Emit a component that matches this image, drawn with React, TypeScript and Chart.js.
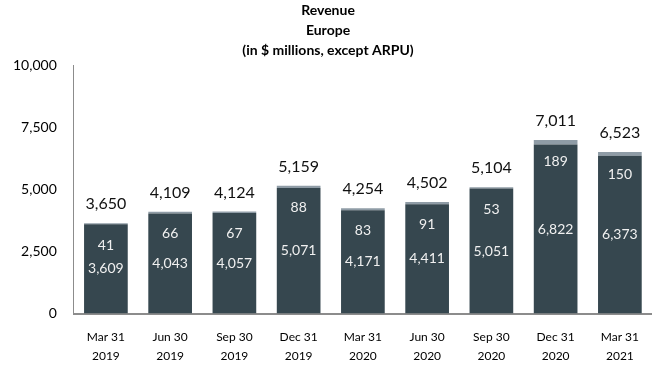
import React, { useEffect, useRef } from "react";
import { Chart, registerables } from "chart.js";

Chart.register(...registerables);

const categories: string[][] = [
  ["Mar 31", "2019"],
  ["Jun 30", "2019"],
  ["Sep 30", "2019"],
  ["Dec 31", "2019"],
  ["Mar 31", "2020"],
  ["Jun 30", "2020"],
  ["Sep 30", "2020"],
  ["Dec 31", "2020"],
  ["Mar 31", "2021"],
];
const baseValues = [3609, 4043, 4057, 5071, 4171, 4411, 5051, 6822, 6373];
const topValues = [41, 66, 67, 88, 83, 91, 53, 189, 150];
const totals = [3650, 4109, 4124, 5159, 4254, 4502, 5104, 7011, 6523];
const titleLines = ["Revenue", "Europe", "(in $ millions, except ARPU)"];

const FONT = "Lato, 'Open Sans', sans-serif";
const fmt = (v: number) => v.toLocaleString("en-US");

const labelPlugin = {
  id: "barLabels",
  afterDatasetsDraw(chart: any) {
    const ctx = chart.ctx;
    const m0 = chart.getDatasetMeta(0);
    const m1 = chart.getDatasetMeta(1);
    ctx.save();
    ctx.textAlign = "center";
    ctx.textBaseline = "middle";
    m0.data.forEach((el: any, i: number) => {
      const topEl = m1.data[i];
      const x = el.x;
      const darkTop = el.y;
      const darkBase = el.base;
      const barTop = topEl.y;
      ctx.fillStyle = "#f0f0f0";
      ctx.font = `14px ${FONT}`;
      ctx.fillText(fmt(baseValues[i]), x, (darkTop + darkBase) / 2);
      ctx.fillText(fmt(topValues[i]), x, barTop + 22);
      ctx.fillStyle = "#111";
      ctx.font = `16px ${FONT}`;
      ctx.fillText(fmt(totals[i]), x, barTop - 19);
    });
    ctx.restore();
  },
};

export default function App() {
  const ref = useRef<HTMLCanvasElement | null>(null);
  useEffect(() => {
    document.body.style.margin = "0";
    const chart = new Chart(ref.current as HTMLCanvasElement, {
      type: "bar",
      data: {
        labels: categories,
        datasets: [
          {
            data: baseValues,
            backgroundColor: "#36474f",
            barPercentage: 0.68,
            categoryPercentage: 1,
          },
          {
            data: topValues,
            backgroundColor: "#8f9ca6",
            barPercentage: 0.68,
            categoryPercentage: 1,
          },
        ],
      },
      options: {
        animation: false,
        responsive: false,
        maintainAspectRatio: false,
        layout: { padding: { left: 4, right: 0, top: 0, bottom: -6 } },
        plugins: {
          legend: { display: false },
          tooltip: { enabled: false },
          title: {
            display: true,
            text: titleLines,
            color: "#000",
            font: { family: FONT, size: 14, weight: "bold", lineHeight: 1.45 },
            padding: { top: 0, bottom: 5 },
          },
        },
        scales: {
          x: {
            stacked: true,
            grid: { display: false },
            border: { display: true, color: "#8c8c8c", width: 2 },
            ticks: {
              color: "#000",
              font: { family: FONT, size: 12, lineHeight: 1.6 },
              padding: 6,
              maxRotation: 0,
              autoSkip: false,
            },
          },
          y: {
            stacked: true,
            min: 0,
            max: 10000,
            grid: { display: false },
            border: { display: true, color: "#8c8c8c", width: 1 },
            ticks: {
              stepSize: 2500,
              color: "#000",
              font: { family: FONT, size: 14 },
              padding: 9,
              callback: (v: any) => fmt(Number(v)),
            },
          },
        },
      },
      plugins: [labelPlugin],
    });
    return () => chart.destroy();
  }, []);
  return (
    <div style={{ position: "absolute", left: 0, top: 0, width: 652, height: 366 }}>
      <canvas ref={ref} width={652} height={366} style={{ width: 652, height: 366 }} />
    </div>
  );
}
